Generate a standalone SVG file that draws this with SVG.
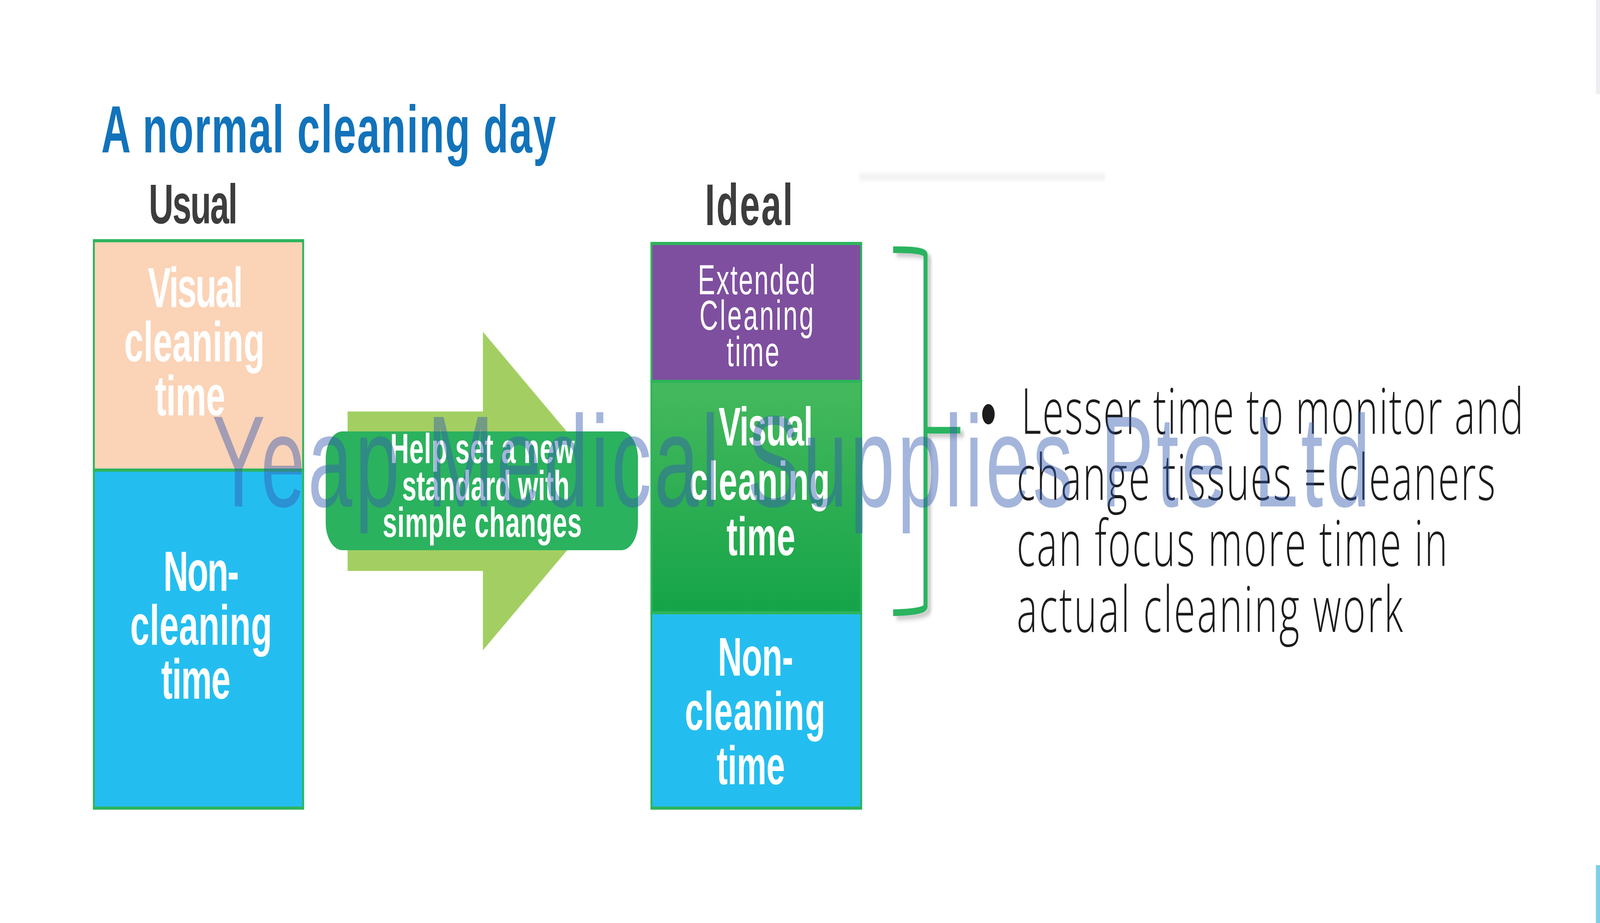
<svg xmlns="http://www.w3.org/2000/svg" width="6666" height="2362" viewBox="0 0 6666 2362" preserveAspectRatio="none">
<style>
:root{width:100vw;height:100vh;}
.bold{font-family:"Liberation Sans",Arial,sans-serif;font-weight:bold;}
.reg{font-family:"Liberation Sans",Arial,sans-serif;font-weight:normal;}
.w{fill:#ffffff;text-anchor:middle;}
.sec{stroke:#2eb45c;stroke-width:8;}
.label{fill:#3d3d3d;}
.bul{font-family:"Open Sans","Liberation Sans",sans-serif;font-weight:300;font-size:162px;fill:#1c1c1c;}
</style>
<defs>
<linearGradient id="gGreen" x1="0" y1="0" x2="0" y2="1">
<stop offset="0" stop-color="#46b95d"/>
<stop offset="1" stop-color="#15a449"/>
</linearGradient>
<filter id="shadow" x="-20%" y="-10%" width="150%" height="130%">
<feDropShadow dx="14" dy="10" stdDeviation="6" flood-color="#000000" flood-opacity="0.22"/>
</filter>
<filter id="blur" x="-5%" y="-200%" width="110%" height="500%">
<feGaussianBlur stdDeviation="5"/>
</filter>
</defs>
<rect x="0" y="0" width="6666" height="2362" fill="#ffffff"/>
<rect x="3580" y="444" width="1022" height="18" fill="#ececec" filter="url(#blur)" opacity="0.7"/>
<rect x="6649" y="0" width="17" height="241" fill="#eceef1"/>
<rect x="6649" y="2214" width="17" height="148" fill="#7ccfe6"/>

<g id="title">
<text class="bold" x="422" y="390" font-size="170" fill="#1273bb" textLength="1894" lengthAdjust="spacing">A normal cleaning day</text>
</g>

<g id="usual-label">
<text class="bold label" x="620" y="572" font-size="142" textLength="370" lengthAdjust="spacing">Usual</text>
</g>

<g id="usual-box">
<rect class="sec" x="391" y="616" width="872" height="587" fill="#fbd3b7"/>
<rect class="sec" x="391" y="1203" width="872" height="865" fill="#23beef"/>
<g class="bold w" font-size="144">
<text x="814" y="786" textLength="396" lengthAdjust="spacing">Visual</text>
<text x="810" y="925" textLength="585" lengthAdjust="spacing">cleaning</text>
<text x="792" y="1063" textLength="293" lengthAdjust="spacing">time</text>
<text x="838" y="1512" textLength="315" lengthAdjust="spacing">Non-</text>
<text x="838" y="1650" textLength="591" lengthAdjust="spacing">cleaning</text>
<text x="816" y="1788" textLength="289" lengthAdjust="spacing">time</text>
</g>
</g>

<g id="connectors">
<polygon id="arrow" points="1448,1053 2012,1053 2012,849 2570,1257 2012,1664 2012,1461 1448,1461" fill="#a3cf62"/>
<g id="bracket" filter="url(#shadow)">
<path d="M3721,639 Q3852,638 3856,652 L3856,1552 Q3852,1566 3721,1568 M3856,1101 L4001,1101" fill="none" stroke="#2cb45f" stroke-width="17" stroke-linejoin="round"/>
</g>
</g>

<g id="help-box">
<rect x="1357" y="1104" width="1301" height="304" rx="70" ry="70" fill="#2bb25e"/>
<g class="bold w" font-size="108">
<text x="2010" y="1185" textLength="768" lengthAdjust="spacing">Help set a new</text>
<text x="2024" y="1280" textLength="698" lengthAdjust="spacing">standard with</text>
<text x="2009" y="1374" textLength="830" lengthAdjust="spacing">simple changes</text>
</g>
</g>

<g id="ideal-label">
<text class="bold label" x="2937" y="576" font-size="150" textLength="366" lengthAdjust="spacing">Ideal</text>
</g>

<g id="ideal-box">
<rect class="sec" x="2714" y="623" width="874" height="353" fill="#7e4f9e"/>
<rect class="sec" x="2714" y="976" width="874" height="592" fill="url(#gGreen)"/>
<rect class="sec" x="2714" y="1568" width="874" height="500" fill="#23beef"/>
<g class="reg w" font-size="108">
<text x="3152" y="753" textLength="489" lengthAdjust="spacing">Extended</text>
<text x="3152" y="844" textLength="476" lengthAdjust="spacing">Cleaning</text>
<text x="3137" y="937" textLength="220" lengthAdjust="spacing">time</text>
</g>
<g class="bold w" font-size="139">
<text x="3190" y="1140" textLength="393" lengthAdjust="spacing">Visual</text>
<text x="3165" y="1279" textLength="585" lengthAdjust="spacing">cleaning</text>
<text x="3170" y="1421" textLength="287" lengthAdjust="spacing">time</text>
<text x="3148" y="1729" textLength="314" lengthAdjust="spacing">Non-</text>
<text x="3146" y="1868" textLength="585" lengthAdjust="spacing">cleaning</text>
<text x="3128" y="2007" textLength="285" lengthAdjust="spacing">time</text>
</g>
</g>

<g id="bullet-text">
<circle cx="4118" cy="1060" r="26" fill="#1c1c1c"/>
<text class="bul" x="4255" y="1110" textLength="2092" lengthAdjust="spacing">Lesser time to monitor and</text>
<text class="bul" x="4236" y="1279" textLength="1994" lengthAdjust="spacing">change tissues = cleaners</text>
<text class="bul" x="4236" y="1448" textLength="1795" lengthAdjust="spacing">can focus more time in</text>
<text class="bul" x="4236" y="1617" textLength="1609" lengthAdjust="spacing">actual cleaning work</text>
</g>

<g id="watermark">
<text class="reg" x="883" y="1296" font-size="333" fill="#355bb2" fill-opacity="0.45" textLength="4826" lengthAdjust="spacing">Yeap Medical Supplies Pte Ltd</text>
</g>
</svg>
